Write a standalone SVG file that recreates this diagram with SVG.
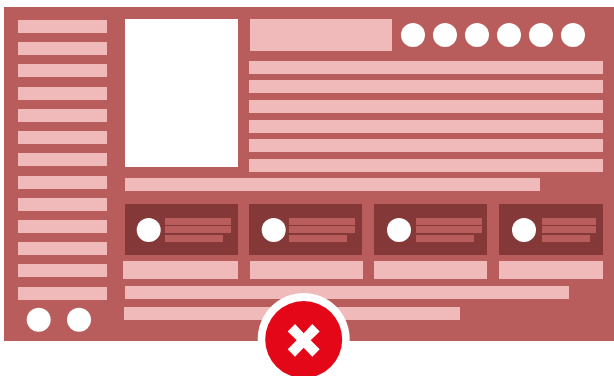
<svg xmlns="http://www.w3.org/2000/svg" width="614" height="376" viewBox="0 0 614 376">
<style>
.bg{fill:#b85c5c}.p{fill:#f0baba}.w{fill:#fff}.d{fill:#843838}.m{fill:#b85c5c}
</style>
<rect width="614" height="376" fill="#fff"/>
<rect class="bg" x="4" y="7" width="610" height="334"/>
<g id="sidebar">
<rect class="p" x="18" y="20" width="89" height="13"/>
<rect class="p" x="18" y="42" width="89" height="13"/>
<rect class="p" x="18" y="64" width="89" height="13"/>
<rect class="p" x="18" y="87" width="89" height="13"/>
<rect class="p" x="18" y="109" width="89" height="13"/>
<rect class="p" x="18" y="131" width="89" height="13"/>
<rect class="p" x="18" y="153" width="89" height="13"/>
<rect class="p" x="18" y="176" width="89" height="13"/>
<rect class="p" x="18" y="198" width="89" height="13"/>
<rect class="p" x="18" y="220" width="89" height="13"/>
<rect class="p" x="18" y="242" width="89" height="13"/>
<rect class="p" x="18" y="264" width="89" height="13"/>
<rect class="p" x="18" y="287" width="89" height="13"/>
<circle class="w" cx="38.700" cy="319.700" r="12"/>
<circle class="w" cx="79" cy="319.700" r="12"/>
</g>
<g id="hero"><rect class="w" x="125" y="19" width="113" height="148"/></g>
<g id="header">
<rect class="p" x="250" y="19" width="142" height="32"/>
<circle class="w" cx="413" cy="35" r="12"/>
<circle class="w" cx="445" cy="35" r="12"/>
<circle class="w" cx="477" cy="35" r="12"/>
<circle class="w" cx="509" cy="35" r="12"/>
<circle class="w" cx="541" cy="35" r="12"/>
<circle class="w" cx="573" cy="35" r="12"/>
</g>
<g id="lines">
<rect class="p" x="249" y="61" width="354" height="13"/>
<rect class="p" x="249" y="80" width="354" height="13"/>
<rect class="p" x="249" y="100" width="354" height="13"/>
<rect class="p" x="249" y="120" width="354" height="13"/>
<rect class="p" x="249" y="139" width="354" height="13"/>
<rect class="p" x="249" y="159" width="354" height="13"/>
<rect class="p" x="125" y="178" width="415" height="13"/>
</g>
<g id="card1">
<rect class="d" x="125" y="204" width="113" height="51"/>
<circle class="w" cx="148.700" cy="230" r="12"/>
<rect class="m" x="165" y="218" width="66" height="7"/>
<rect class="m" x="165" y="226" width="66" height="7"/>
<rect class="m" x="165" y="235" width="58" height="7"/>
<rect class="p" x="123" y="261" width="115" height="18"/>
</g>
<g id="card2">
<rect class="d" x="249" y="204" width="113" height="51"/>
<circle class="w" cx="273.700" cy="230" r="12"/>
<rect class="m" x="289" y="218" width="66" height="7"/>
<rect class="m" x="289" y="226" width="66" height="7"/>
<rect class="m" x="289" y="235" width="58" height="7"/>
<rect class="p" x="250" y="261" width="113" height="18"/>
</g>
<g id="card3">
<rect class="d" x="374" y="204" width="113" height="51"/>
<circle class="w" cx="399" cy="230" r="12"/>
<rect class="m" x="416" y="218" width="66" height="7"/>
<rect class="m" x="416" y="226" width="66" height="7"/>
<rect class="m" x="416" y="235" width="58" height="7"/>
<rect class="p" x="374" y="261" width="113" height="18"/>
</g>
<g id="card4">
<rect class="d" x="499" y="204" width="104" height="51"/>
<circle class="w" cx="524" cy="230" r="12"/>
<rect class="m" x="542" y="218" width="54" height="7"/>
<rect class="m" x="542" y="226" width="54" height="7"/>
<rect class="m" x="542" y="235" width="48" height="7"/>
<rect class="p" x="499" y="261" width="104" height="18"/>
</g>
<g id="footer">
<rect class="p" x="125" y="286" width="444" height="13"/>
<rect class="p" x="124" y="307" width="336" height="13"/>
</g>
<g id="badge">
<circle class="w" cx="303.700" cy="339" r="46"/>
<circle fill="#e30718" cx="303.700" cy="339.500" r="38.500"/>
<path class="w" d="M287.700 331.500L295 324 303.700 333.300 312.300 324 319.700 331.500 310.700 340.300 319.700 349.300 312.300 356.700 303.700 347.700 295 356.700 287.700 349.300 296.700 340.300Z"/>
</g>
</svg>
